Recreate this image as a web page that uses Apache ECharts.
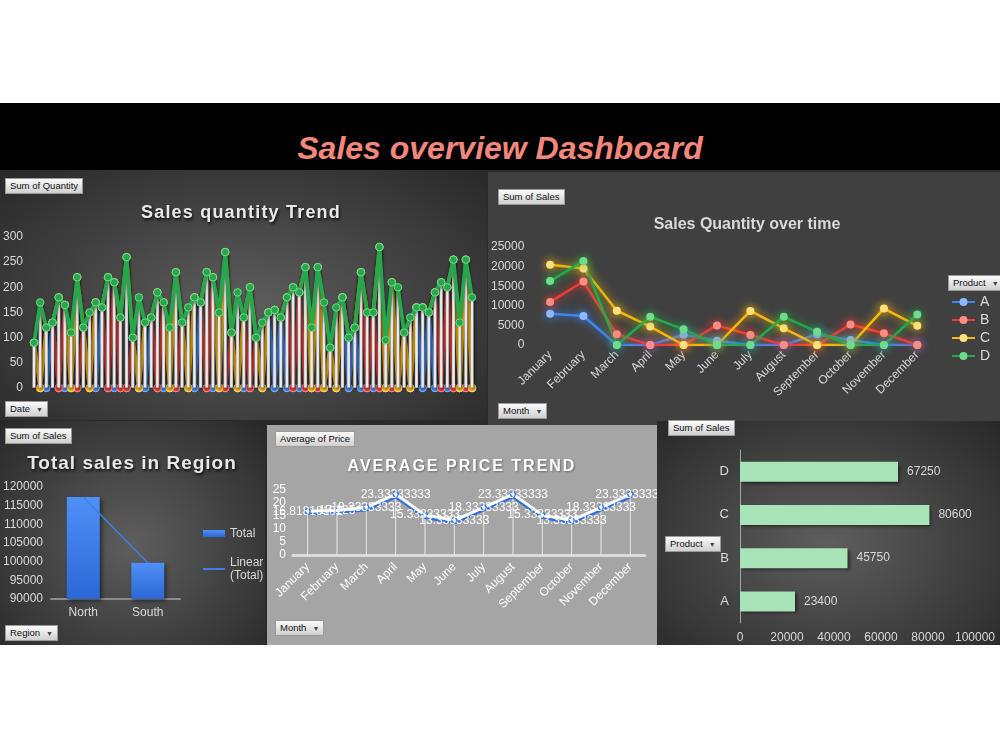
<!DOCTYPE html>
<html>
<head>
<meta charset="utf-8">
<title>Sales overview Dashboard</title>
<script src="https://cdn.jsdelivr.net/npm/echarts@6/dist/echarts.min.js"></script>
<style>
  body { margin: 0; width: 1000px; height: 750px; background: #fff; position: relative; overflow: hidden;
         font-family: "Liberation Sans", Arial, sans-serif; }
  #header { position: absolute; left: 0; top: 103px; width: 1000px; height: 67px; background: #000; }
  #header h1 { position: absolute; left: 0; right: 0; top: 29px; margin: 0; text-align: center;
               font: italic bold 32px "Liberation Sans", Arial, sans-serif; color: #f4877c; line-height: 1; }
  #strip { position: absolute; left: 0; top: 170px; width: 1000px; height: 475px; background: #2a2a2a; }
  .panel { position: absolute; overflow: hidden; }
  .chart { position: absolute; left: 0; top: 0; width: 100%; height: 100%; }
  .dark { background: radial-gradient(ellipse at 50% 55%, #5e5e5e 0%, #434343 50%, #282828 100%); }
  .title { position: absolute; width: 360px; text-align: center; font-weight: bold; white-space: nowrap;
           line-height: 1; color: #e8e8e8; text-shadow: 1px 2px 3px rgba(0,0,0,0.85); }
  .btn { position: absolute; height: 14px; line-height: 14px; font-size: 9.5px; color: #111; white-space: nowrap;
         padding: 0 4px; background: linear-gradient(#fbfbfb, #d0d0d0); border: 1px solid #9a9a9a; }
  .btn span { font-size: 7px; margin-left: 6px; color: #444; }
</style>
</head>
<body>
<div id="header"><h1>Sales overview Dashboard</h1></div>
<div id="strip"></div>

<div class="panel dark" style="left:0;top:170px;width:487px;height:250px;"><div id="qtyTrend" class="chart"></div></div>
<div class="panel" style="left:488px;top:172px;width:512px;height:253px;background:#404040;"><div id="monthTrend" class="chart"></div></div>
<div class="panel dark" style="left:0;top:421px;width:265px;height:224px;"><div id="regionChart" class="chart"></div></div>
<div class="panel" style="left:267px;top:425px;width:391px;height:220px;background:#a5a5a5;"><div id="priceChart" class="chart"></div></div>
<div class="panel dark" style="left:657px;top:421px;width:343px;height:224px;"><div id="productChart" class="chart"></div></div>

<div class="title" style="left:61px;top:203px;font-size:18px;letter-spacing:1.2px;">Sales quantity Trend</div>
<div class="title" style="left:567px;top:216px;font-size:16px;color:#d9d9d9;text-shadow:none;">Sales Quantity over time</div>
<div class="title" style="left:-48px;top:453px;font-size:19px;letter-spacing:1px;">Total sales in Region</div>
<div class="title" style="left:282px;top:458px;font-size:16px;letter-spacing:2px;color:#fff;text-shadow:1px 1px 2px rgba(0,0,0,0.35);">AVERAGE PRICE TREND</div>

<div class="btn" style="left:5px;top:178px;">Sum of Quantity</div>
<div class="btn" style="left:5px;top:401px;">Date<span>&#9660;</span></div>
<div class="btn" style="left:498px;top:189px;">Sum of Sales</div>
<div class="btn" style="left:498px;top:403px;">Month<span>&#9660;</span></div>
<div class="btn" style="left:948px;top:275px;">Product<span>&#9660;</span></div>
<div class="btn" style="left:5px;top:428px;">Sum of Sales</div>
<div class="btn" style="left:5px;top:625px;">Region<span>&#9660;</span></div>
<div class="btn" style="left:275px;top:431px;">Average of Price</div>
<div class="btn" style="left:275px;top:620px;">Month<span>&#9660;</span></div>
<div class="btn" style="left:668px;top:420px;">Sum of Sales</div>
<div class="btn" style="left:665px;top:536px;">Product<span>&#9660;</span></div>

<script>
// ---- data ----
const products = ['A', 'B', 'C', 'D'];
const months = ['January', 'February', 'March', 'April', 'May', 'June', 'July',
  'August', 'September', 'October', 'November', 'December'];

// daily quantity (one product sold per date)
const qtyValues = [90, 170, 120, 130, 180, 165, 110, 220, 120, 150, 170, 160, 220, 210, 140, 260, 100, 180,
  130, 140, 190, 170, 120, 230, 130, 160, 180, 170, 230, 220, 150, 270, 110, 190, 140, 200,
  100, 130, 150, 155, 140, 180, 200, 190, 240, 120, 240, 170, 80, 160, 180, 100, 120, 230,
  150, 150, 280, 95, 210, 200, 110, 140, 160, 160, 150, 190, 210, 200, 255, 130, 255, 180];
const qtyProducts = ['A', 'D', 'B', 'A', 'C', 'B', 'D', 'C', 'A', 'D', 'B', 'A', 'C', 'B', 'C', 'C', 'A', 'D',
  'B', 'A', 'C', 'B', 'D', 'C', 'A', 'D', 'B', 'A', 'C', 'B', 'D', 'C', 'A', 'D', 'B', 'C',
  'A', 'D', 'A', 'B', 'A', 'B', 'C', 'B', 'C', 'D', 'C', 'D', 'A', 'D', 'A', 'B', 'A', 'B',
  'C', 'B', 'C', 'D', 'C', 'D', 'A', 'D', 'A', 'B', 'A', 'B', 'C', 'B', 'C', 'D', 'C', 'D'];

// monthly sales per product
const salesA = [8000, 7400, 0, 0, 2600, 1100, 0, 0, 2700, 1300, 0, 0];
const salesB = [11000, 16200, 2750, 0, 0, 5000, 2550, 0, 0, 5250, 3000, 0];
const salesC = [20500, 19500, 8750, 4700, 0, 0, 8700, 4250, 0, 0, 9300, 4900];
const salesD = [16300, 21400, 0, 7200, 4000, 0, 0, 7200, 3350, 0, 0, 7800];

const regions = ['North', 'South'];
const regionSales = [117300, 99700];

const avgPrice = [16.81818182, 17.125, 18.33333333, 23.33333333, 15.33333333, 13.33333333,
  18.33333333, 23.33333333, 15.33333333, 13.33333333, 18.33333333, 23.33333333];

const productSales = [23400, 45750, 80600, 67250];

const colors = { A: '#3f86f5', B: '#ef3b36', C: '#fcb70b', D: '#26a84a' };
const light = { A: '#8db9ff', B: '#ff8c84', C: '#ffe07a', D: '#6fdc8c' };
const axisText = '#d9d9d9';
const plain = v => String(v);   // no thousands separators

// ---- sales quantity trend (stacked lines + high-low lines) ----
const qtyDates = qtyValues.map((v, i) => 'Day ' + (i + 1));
const qtyChart = echarts.init(document.getElementById('qtyTrend'));
qtyChart.setOption({
  animation: false,
  grid: { left: 31, right: 15, top: 67, bottom: 32 },
  xAxis: {
    type: 'category', data: qtyDates, boundaryGap: false,
    axisLine: { show: false }, axisTick: { show: false }, axisLabel: { show: false }
  },
  yAxis: {
    type: 'value', min: 0, max: 300, interval: 50,
    axisLabel: { color: axisText, fontSize: 12, margin: 11 },
    splitLine: { show: false }
  },
  series: products.map(p => ({
    name: p, type: 'line', stack: 'qty', z: p === 'D' ? 4 : 2,
    data: qtyValues.map((v, i) => qtyProducts[i] === p ? v : 0),
    symbol: 'circle', symbolSize: 7.5, showAllSymbol: true,
    lineStyle: { color: colors[p], width: 3.8, shadowColor: 'rgba(0,0,0,0.5)', shadowBlur: 3, shadowOffsetY: 2 },
    itemStyle: { color: colors[p], borderColor: light[p], borderWidth: 1 }
  })).concat([
    {
      type: 'bar', data: qtyValues, barWidth: 3.5, clip: false, silent: true, z: 3,
      itemStyle: { color: '#ffffff', borderColor: 'rgba(120,120,120,0.8)', borderWidth: 0.5,
        shadowColor: 'rgba(0,0,0,0.6)', shadowBlur: 3, shadowOffsetX: 1, shadowOffsetY: 1 }
    }
  ])
});

// ---- sales quantity over time (monthly, glow lines) ----
const monthSeries = { A: salesA, B: salesB, C: salesC, D: salesD };
const monthChart = echarts.init(document.getElementById('monthTrend'));
monthChart.setOption({
  animation: false,
  grid: { left: 45, right: 66, top: 75, bottom: 80 },
  legend: {
    orient: 'vertical', left: 458, top: 118, itemWidth: 23, itemHeight: 10, itemGap: 4,
    textStyle: { color: axisText, fontSize: 14, lineHeight: 14 },
    data: products
  },
  xAxis: {
    type: 'category', data: months,
    axisLine: { show: false }, axisTick: { show: false },
    axisLabel: { color: axisText, fontSize: 12, rotate: 45, margin: 8 }
  },
  yAxis: {
    type: 'value', min: 0, max: 25000, interval: 5000,
    axisLabel: { color: axisText, fontSize: 12, margin: 9, formatter: plain },
    splitLine: { show: false }
  },
  series: products.map(p => ({
    name: p, type: 'line', data: monthSeries[p],
    symbol: 'circle', symbolSize: 8,
    lineStyle: { color: colors[p], width: 2.5, shadowColor: colors[p], shadowBlur: 10 },
    itemStyle: { color: light[p], shadowColor: colors[p], shadowBlur: 10 }
  }))
});

// ---- total sales in region ----
const regionChart = echarts.init(document.getElementById('regionChart'));
regionChart.setOption({
  animation: false,
  grid: { left: 47, right: 85, top: 66, bottom: 46 },
  legend: {
    orient: 'vertical', left: 198, top: 101, itemWidth: 22, itemHeight: 7, itemGap: 16,
    textStyle: { color: axisText, fontSize: 12, lineHeight: 13 },
    formatter: name => name.replace(' ', '\n'),
    data: [
      { name: 'Total', icon: 'rect' },
      { name: 'Linear (Total)', icon: 'path://M0,9 L22,9 L22,11 L0,11 Z' }
    ]
  },
  xAxis: {
    type: 'category', data: regions,
    axisLine: { lineStyle: { color: '#8c8c8c', width: 2 } }, axisTick: { show: false },
    axisLabel: { color: axisText, fontSize: 12, margin: 8 }
  },
  yAxis: {
    type: 'value', min: 90000, max: 120000, interval: 5000,
    axisLabel: { color: axisText, fontSize: 12, margin: 8, formatter: plain },
    splitLine: { show: false }
  },
  series: [
    {
      name: 'Total', type: 'bar', data: regionSales, barWidth: 33,
      itemStyle: {
        color: new echarts.graphic.LinearGradient(0, 0, 0, 1, [
          { offset: 0, color: '#4f90f7' }, { offset: 1, color: '#2a68d6' }
        ]),
        shadowColor: 'rgba(0,0,0,0.5)', shadowBlur: 4, shadowOffsetX: 2, shadowOffsetY: 2
      }
    },
    {
      name: 'Linear (Total)', type: 'line', data: regionSales, symbol: 'none',
      lineStyle: { color: '#3d7fe6', width: 1.5 }, itemStyle: { color: '#3d7fe6' }
    }
  ]
});

// ---- average price trend ----
const priceChart = echarts.init(document.getElementById('priceChart'));
priceChart.setOption({
  animation: false,
  grid: { left: 26, right: 13, top: 65, bottom: 90 },
  xAxis: {
    type: 'category', data: months,
    axisLine: { lineStyle: { color: '#dcdcdc', width: 3 } }, axisTick: { show: false },
    axisLabel: { color: '#ffffff', fontSize: 12, rotate: 45, margin: 10 }
  },
  yAxis: {
    type: 'value', min: 0, max: 25, interval: 5,
    axisLabel: { color: '#ffffff', fontSize: 12, margin: 7 },
    splitLine: { show: false }
  },
  series: [
    {
      type: 'bar', data: avgPrice, barWidth: 1, silent: true,
      itemStyle: { color: 'rgba(255,255,255,0.75)' }
    },
    {
      type: 'line', data: avgPrice, symbol: 'circle', symbolSize: 5,
      lineStyle: { color: '#ffffff', width: 3, shadowColor: '#2f6fe0', shadowBlur: 0, shadowOffsetY: 2.5 },
      itemStyle: { color: '#ffffff', borderColor: '#3b78e7', borderWidth: 1.5 },
      label: {
        show: true, position: 'inside', color: '#ffffff', fontSize: 12, textBorderWidth: 0,
        formatter: p => String(parseFloat(p.value.toFixed(8)))
      }
    }
  ]
});

// ---- sales by product ----
const productChart = echarts.init(document.getElementById('productChart'));
productChart.setOption({
  animation: false,
  grid: { left: 83, right: 25, top: 29, bottom: 22 },
  yAxis: {
    type: 'category', data: products,
    axisLine: { lineStyle: { color: '#a6a6a6', width: 1 } }, axisTick: { show: false },
    axisLabel: { color: axisText, fontSize: 13, margin: 11 }
  },
  xAxis: {
    type: 'value', min: 0, max: 100000, interval: 20000,
    axisLine: { show: false }, splitLine: { show: false },
    axisLabel: { color: axisText, fontSize: 12, margin: 9, formatter: plain }
  },
  series: [{
    type: 'bar', data: productSales, barWidth: 20,
    itemStyle: { color: '#a8e4b7', shadowColor: 'rgba(0,0,0,0.5)', shadowBlur: 3, shadowOffsetX: 2, shadowOffsetY: 2 },
    label: { show: true, position: 'right', color: axisText, fontSize: 12, distance: 9 }
  }]
});
</script>
</body>
</html>
